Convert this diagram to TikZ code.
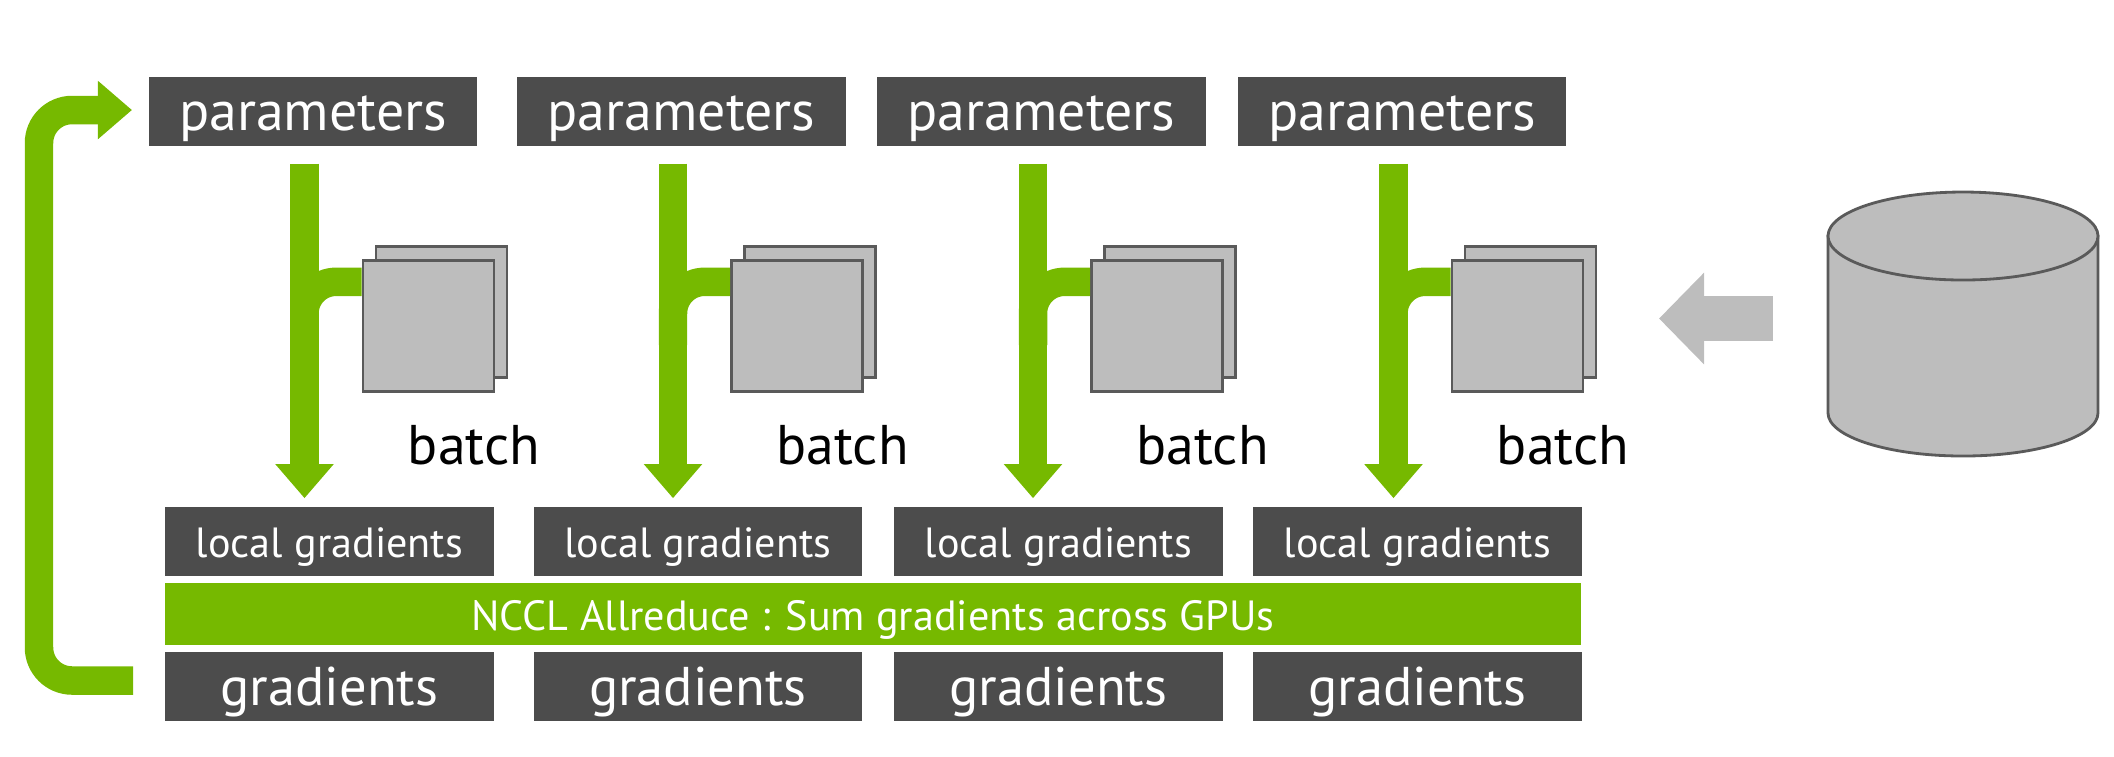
\documentclass[tikz,border=0pt]{standalone}
\usepackage{fontspec}
\setmainfont{PT Sans}
\usetikzlibrary{arrows.meta}
\definecolor{nvgreen}{HTML}{76B900}
\definecolor{boxgray}{HTML}{4C4C4C}
\definecolor{sheetgray}{HTML}{BDBDBD}
\definecolor{edgegray}{HTML}{5A5A5A}
\tikzset{
  bigbox/.style={fill=boxgray,text=white,minimum width=3.28cm,minimum height=.69cm,inner sep=0pt,
    font=\fontsize{15.5}{18}\selectfont,text height=12.5pt,text depth=1.7pt},
  smallbox/.style={fill=boxgray,text=white,minimum width=3.28cm,minimum height=.69cm,inner sep=0pt,
    font=\fontsize{12}{14}\selectfont,text height=10.2pt,text depth=.9pt},
  flow/.style={draw=nvgreen,line width=8.1pt},
  sheet/.style={draw=edgegray,fill=sheetgray,line width=.8pt,minimum width=1.31cm,minimum height=1.31cm,inner sep=0pt},
  tiphead/.style={-{Triangle[length=9.7pt,width=16pt]}}
}
\begin{document}
\begin{tikzpicture}[x=.01cm,y=-.01cm]
        \useasboundingbox (0,0) rectangle (2114,756);
        \foreach \i/\p/\l in {1/313/329.5,2/681.5/698,3/1041.5/1058.5,4/1402/1417.5}{
          \node[bigbox,font=\fontsize{15.9}{18}\selectfont] (param\i) at (\p,111.5) {parameters};
          \node[smallbox] (local\i) at (\l,541.5) {local gradients};
          \node[bigbox] (grad\i) at (\l,686) {gradients};
          \coordinate (top\i) at ([shift={(-8.5,17)}]param\i.south);
          \node[sheet] (back\i) at ([shift={(137,148.5)}]top\i) {};
          \node[sheet] (front\i) at ([shift={(-13,14)}]back\i) {};
          \node[anchor=base,font=\fontsize{15.9}{18}\selectfont] (batch\i) at ([shift={(45.5,71.5)}]front\i.south) {batch};
          \coordinate (start\i) at ([yshift=-6.4pt]front\i.north west);
          \draw[flow,rounded corners=9pt] (start\i) -- (start\i -| top\i) -- ([yshift=-18pt]start\i -| top\i);
          \draw[flow,tiphead,shorten >=2.3pt] (top\i) -- (top\i |- local\i.north);
        }
        \node[fill=nvgreen,text=white,minimum width=14.16cm,minimum height=.62cm,inner sep=0pt,
          font=\fontsize{12}{14}\selectfont,text height=10pt,text depth=.9pt] (sum) at (873,614) {NCCL Allreduce : Sum gradients across GPUs};
        \coordinate (loopin) at (133,680.5);
        \coordinate (loopout) at (132,110);
        \draw[flow,tiphead,rounded corners=9.4pt] (loopin) -- (39,680.5) -- (39,110) -- (loopout);
        \coordinate (dbside) at (1773,318.5);
        \coordinate (feedtip) at (1659,318.5);
        \draw[draw=sheetgray,line width=12.8pt,-{Triangle[length=12.8pt,width=25.3pt]}] (dbside) -- (feedtip);
        \draw[draw=edgegray,fill=sheetgray,line width=.8pt] (1828,236) -- (1828,413) arc[x radius=135,y radius=43,start angle=180,end angle=0] -- (2098,236) -- cycle;
        \draw[draw=edgegray,fill=sheetgray,line width=.8pt] (1963,236) ellipse [x radius=135,y radius=44];
      \end{tikzpicture}
\end{document}
